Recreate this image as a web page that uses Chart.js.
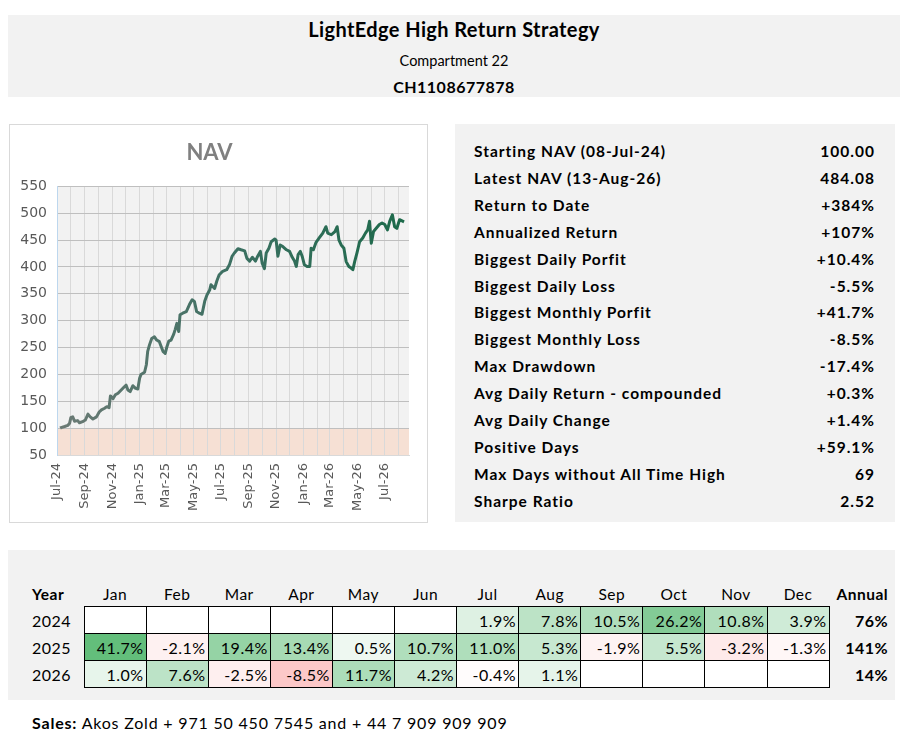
<!DOCTYPE html>
<html>
<head>
<meta charset="utf-8">
<script src="https://cdn.jsdelivr.net/npm/chart.js@4.4.1/dist/chart.umd.min.js"></script>
<style>
  html, body { margin:0; padding:0; background:#fff; }
  body { width:905px; height:744px; position:relative; overflow:hidden; font-family:"Lato","Open Sans",sans-serif; color:#000; }
  .abs { position:absolute; }
  #header { left:8px; top:15px; width:892px; height:82px; background:#f2f2f2; }
  #header div { position:absolute; left:0; width:100%; text-align:center; }
  #t1 { top:2px; font-size:20px; font-weight:700; letter-spacing:0.4px; }
  #t2 { top:37px; font-size:14.5px; }
  #t3 { top:62px; font-size:16px; font-weight:700; letter-spacing:0.5px; }
  #chartBox { left:9px; top:124px; width:417px; height:397px; border:1px solid #d9d9d9; background:#fff; }
  #chartBox canvas { position:absolute; left:0; top:0; }
  #statsBox { left:455px; top:124px; width:440px; height:398px; background:#f2f2f2; }
  #stats { left:474px; top:138px; width:401px; }
  .srow { height:26.92px; line-height:26.92px; font-size:15.5px; font-weight:700; display:flex; justify-content:space-between; letter-spacing:1px; }
  #bottomBox { left:8px; top:550px; width:887px; height:150px; background:#f2f2f2; }
  #mtable { position:absolute; left:20px; top:582px; border-collapse:collapse; table-layout:fixed; font-size:16px; letter-spacing:0.5px; }
  #mtable td, #mtable th { padding:0; }
  #mtable th { height:24px; font-weight:400; text-align:center; vertical-align:middle; font-size:15.5px; }
  #mtable th.yr { text-align:left; padding-left:12px; font-weight:700; }
  #mtable th.an { text-align:right; font-weight:700; padding-right:2px; }
  #mtable td { height:26px; vertical-align:middle; }
  #mtable td.yr { text-align:left; padding-left:12px; }
  #mtable td.m { border:1px solid #000; text-align:right; padding-right:2px; background:#fff; }
  #mtable td.an { text-align:right; font-weight:700; padding-right:2px; }
  #sales { left:32px; top:713px; font-size:16px; letter-spacing:0.8px; }
</style>
</head>
<body>
<div id="header" class="abs">
  <div id="t1">LightEdge High Return Strategy</div>
  <div id="t2">Compartment 22</div>
  <div id="t3">CH1108677878</div>
</div>
<div id="chartBox" class="abs"><canvas id="nav" width="417" height="397"></canvas></div>
<div id="statsBox" class="abs"></div>
<div id="stats" class="abs"></div>
<div id="bottomBox" class="abs"></div>
<table id="mtable"></table>
<div id="sales" class="abs"><b>Sales:</b> Akos Zold + 971 50 450 7545 and + 44 7 909 909 909</div>

<script>
// ---------------- DATA ----------------
const navDates = [
 '2024-07-08','2024-07-10','2024-07-18','2024-07-25','2024-07-29','2024-08-01','2024-08-05','2024-08-09','2024-08-16','2024-08-20',
 '2024-08-27','2024-09-02','2024-09-08','2024-09-13','2024-09-19','2024-09-27','2024-10-03','2024-10-08','2024-10-15','2024-10-20',
 '2024-10-25','2024-10-28','2024-11-03','2024-11-08','2024-11-14','2024-11-21','2024-11-28','2024-12-02','2024-12-06','2024-12-11',
 '2024-12-17','2024-12-23','2024-12-28',
 '2025-01-01','2025-01-04','2025-01-12','2025-01-16','2025-01-19','2025-01-23','2025-01-28','2025-02-03','2025-02-08','2025-02-14',
 '2025-02-18','2025-02-22','2025-02-27','2025-03-03','2025-03-07','2025-03-12','2025-03-18','2025-03-21','2025-03-25','2025-03-29',
 '2025-04-01','2025-04-07','2025-04-15','2025-04-22','2025-04-28','2025-05-03','2025-05-08','2025-05-14','2025-05-20','2025-05-26',
 '2025-05-31','2025-06-06','2025-06-09','2025-06-17','2025-06-22','2025-06-27','2025-07-05','2025-07-14','2025-07-20','2025-07-26',
 '2025-07-31','2025-08-08','2025-08-15','2025-08-23','2025-08-28','2025-09-03','2025-09-09','2025-09-16','2025-09-21','2025-09-27',
 '2025-10-01','2025-10-06','2025-10-10','2025-10-16','2025-10-21','2025-10-29','2025-11-01','2025-11-05','2025-11-10','2025-11-16',
 '2025-11-24','2025-12-01','2025-12-07','2025-12-12','2025-12-16','2025-12-20','2025-12-25','2025-12-29',
 '2026-01-03','2026-01-09','2026-01-15','2026-01-18','2026-01-23','2026-01-29','2026-02-05','2026-02-13','2026-02-20','2026-02-24',
 '2026-03-04','2026-03-12','2026-03-17','2026-03-21','2026-03-26','2026-04-01','2026-04-06','2026-04-12','2026-04-17','2026-04-21',
 '2026-04-25','2026-04-30','2026-05-06','2026-05-13','2026-05-19','2026-05-24','2026-05-28','2026-06-01','2026-06-06','2026-06-12',
 '2026-06-19','2026-06-25','2026-07-01','2026-07-07','2026-07-12','2026-07-18','2026-07-23','2026-07-28','2026-08-03','2026-08-13'
];
const navValues = [
 100,101,103,105,109,120,121,113,114,110,
 112,115,126,121,117,121,130,134,137,140,
 138,160,155,162,165,171,177,180,171,168,
 179,174,173,
 193,200,204,218,243,255,267,270,264,261,
 252,243,239,252,262,264,275,283,295,280,
 311,314,317,330,339,336,317,314,312,336,
 348,357,367,360,374,385,392,395,404,420,
 426,434,432,430,416,411,418,411,420,429,
 407,397,426,435,447,452,450,420,441,438,
 432,429,418,411,401,423,429,420,
 404,401,401,435,432,446,454,463,475,463,
 460,466,475,450,441,435,410,401,398,395,
 410,426,447,454,463,469,485,444,466,472,
 479,482,479,469,485,497,475,472,488,484.08
];
const axisStart = '2024-07-01';
const axisEnd = '2026-08-24';
const yTicks = [50,100,150,200,250,300,350,400,450,500,550];
const baseNav = 100;

const statLabels = ['Starting NAV (08-Jul-24)','Latest NAV (13-Aug-26)','Return to Date','Annualized Return','Biggest Daily Porfit','Biggest Daily Loss','Biggest Monthly Porfit','Biggest Monthly Loss','Max Drawdown','Avg Daily Return - compounded','Avg Daily Change','Positive Days','Max Days without All Time High','Sharpe Ratio'];
const statValues = ['100.00','484.08','+384%','+107%','+10.4%','-5.5%','+41.7%','-8.5%','-17.4%','+0.3%','+1.4%','+59.1%','69','2.52'];

const months = ['Jan','Feb','Mar','Apr','May','Jun','Jul','Aug','Sep','Oct','Nov','Dec'];
const years = ['2024','2025','2026'];
const ret2024 = [null,null,null,null,null,null,1.9,7.8,10.5,26.2,10.8,3.9];
const ret2025 = [41.7,-2.1,19.4,13.4,0.5,10.7,11.0,5.3,-1.9,5.5,-3.2,-1.3];
const ret2026 = [1.0,7.6,-2.5,-8.5,11.7,4.2,-0.4,1.1,null,null,null,null];
const annual = ['76%','141%','14%'];

// ---------------- STATS ----------------
const statsEl = document.getElementById('stats');
statLabels.forEach((l,i)=>{
  const r = document.createElement('div'); r.className='srow';
  r.innerHTML = '<span>'+l+'</span><span>'+statValues[i]+'</span>';
  statsEl.appendChild(r);
});

// ---------------- TABLE ----------------
function cellColor(v){
  if (v === null) return '#ffffff';
  if (v >= 0){
    const t = Math.pow(Math.min(v/41.7,1),0.5);
    const r = Math.round(255-(255-99)*t), g = Math.round(255-(255-190)*t), b = Math.round(255-(255-123)*t);
    return `rgb(${r},${g},${b})`;
  } else {
    const t = Math.min(-v/23,1);
    const r = Math.round(255-(255-248)*t), g = Math.round(255-(255-105)*t), b = Math.round(255-(255-107)*t);
    return `rgb(${r},${g},${b})`;
  }
}
const tbl = document.getElementById('mtable');
let html = '<colgroup><col style="width:64px">' + months.map(()=>'<col style="width:62.1px">').join('') + '<col style="width:61px"></colgroup>';
html += '<tr><th class="yr">Year</th>' + months.map(m=>'<th>'+m+'</th>').join('') + '<th class="an">Annual</th></tr>';
[ret2024, ret2025, ret2026].forEach((row,i)=>{
  html += '<tr><td class="yr">'+years[i]+'</td>';
  row.forEach(v=>{
    html += '<td class="m" style="background:'+cellColor(v)+'">'+(v===null?'':v.toFixed(1)+'%')+'</td>';
  });
  html += '<td class="an">'+annual[i]+'</td></tr>';
});
tbl.innerHTML = html;

// ---------------- CHART ----------------
const DAY = 86400000;
function toDay(s){ const [y,m,d] = s.split('-').map(Number); return (Date.UTC(y,m-1,d) - Date.UTC(2024,6,1))/DAY; }
const points = navDates.map((d,i)=>({x:toDay(d), y:navValues[i]}));
const monNames = ['Jan','Feb','Mar','Apr','May','Jun','Jul','Aug','Sep','Oct','Nov','Dec'];
const monthTicks = [];
{
  let y=2024, m=6;
  while (true){
    const off = (Date.UTC(y,m,1)-Date.UTC(2024,6,1))/DAY;
    if (off > toDay(axisEnd)) break;
    monthTicks.push({value:off, label: monNames[m]+'-'+String(y).slice(2)});
    m++; if (m>11){m=0;y++;}
  }
}

const bgPlugin = {
  id:'bg',
  beforeDraw(chart){
    const {ctx, chartArea:a, scales} = chart;
    ctx.save();
    ctx.fillStyle = '#f2f2f2';
    ctx.fillRect(a.left, a.top, a.right-a.left, a.bottom-a.top);
    const yb = scales.y.getPixelForValue(baseNav);
    ctx.fillStyle = '#f6e0d4';
    ctx.fillRect(a.left, yb, a.right-a.left, a.bottom-yb);
    ctx.restore();
  }
};

new Chart(document.getElementById('nav'), {
  type:'line',
  data:{ datasets:[{
    data: points,
    borderWidth:3,
    pointRadius:0,
    tension:0,
    borderJoinStyle:'round',
    borderColor:(c)=>{
      const ch = c.chart; const a = ch.chartArea;
      if (!a) return '#3f6f5f';
      const g = ch.ctx.createLinearGradient(a.left,0,a.right,0);
      g.addColorStop(0,'#6c7a75');
      g.addColorStop(0.5,'#3c7062');
      g.addColorStop(1,'#1c6a4a');
      return g;
    }
  }]},
  options:{
    responsive:false,
    animation:false,
    layout:{ padding:{left:0,right:18,top:0,bottom:0} },
    plugins:{
      legend:{display:false},
      tooltip:{enabled:false},
      title:{ display:true, text:'NAV', color:'#808080', font:{family:'Lato', size:22, weight:'bold'}, padding:{top:15,bottom:20} }
    },
    scales:{
      x:{
        type:'linear',
        min:0, max:toDay(axisEnd),
        afterBuildTicks(s){ s.ticks = monthTicks.map(t=>({value:t.value})); },
        afterFit(s){ s.height = 67; },
        ticks:{
          autoSkip:false, maxRotation:90, minRotation:90, padding:8,
          color:'#595959', font:{family:'DejaVu Sans', size:13},
          callback:(v,i)=> (i%2===0 ? monthTicks[i].label : '')
        },
        grid:{ color:'#d9d9d9', lineWidth:1, drawTicks:false },
        border:{ color:'#d9d9d9' }
      },
      y:{
        min:50, max:550,
        afterBuildTicks(s){ s.ticks = yTicks.map(v=>({value:v})); },
        afterFit(s){ s.width = 47; },
        ticks:{ color:'#595959', font:{family:'DejaVu Sans', size:14}, padding:10 },
        grid:{ color:'#bfbfbf', lineWidth:1, drawTicks:false },
        border:{ color:'#bdd7ee' }
      }
    }
  },
  plugins:[bgPlugin]
});
</script>
</body>
</html>
